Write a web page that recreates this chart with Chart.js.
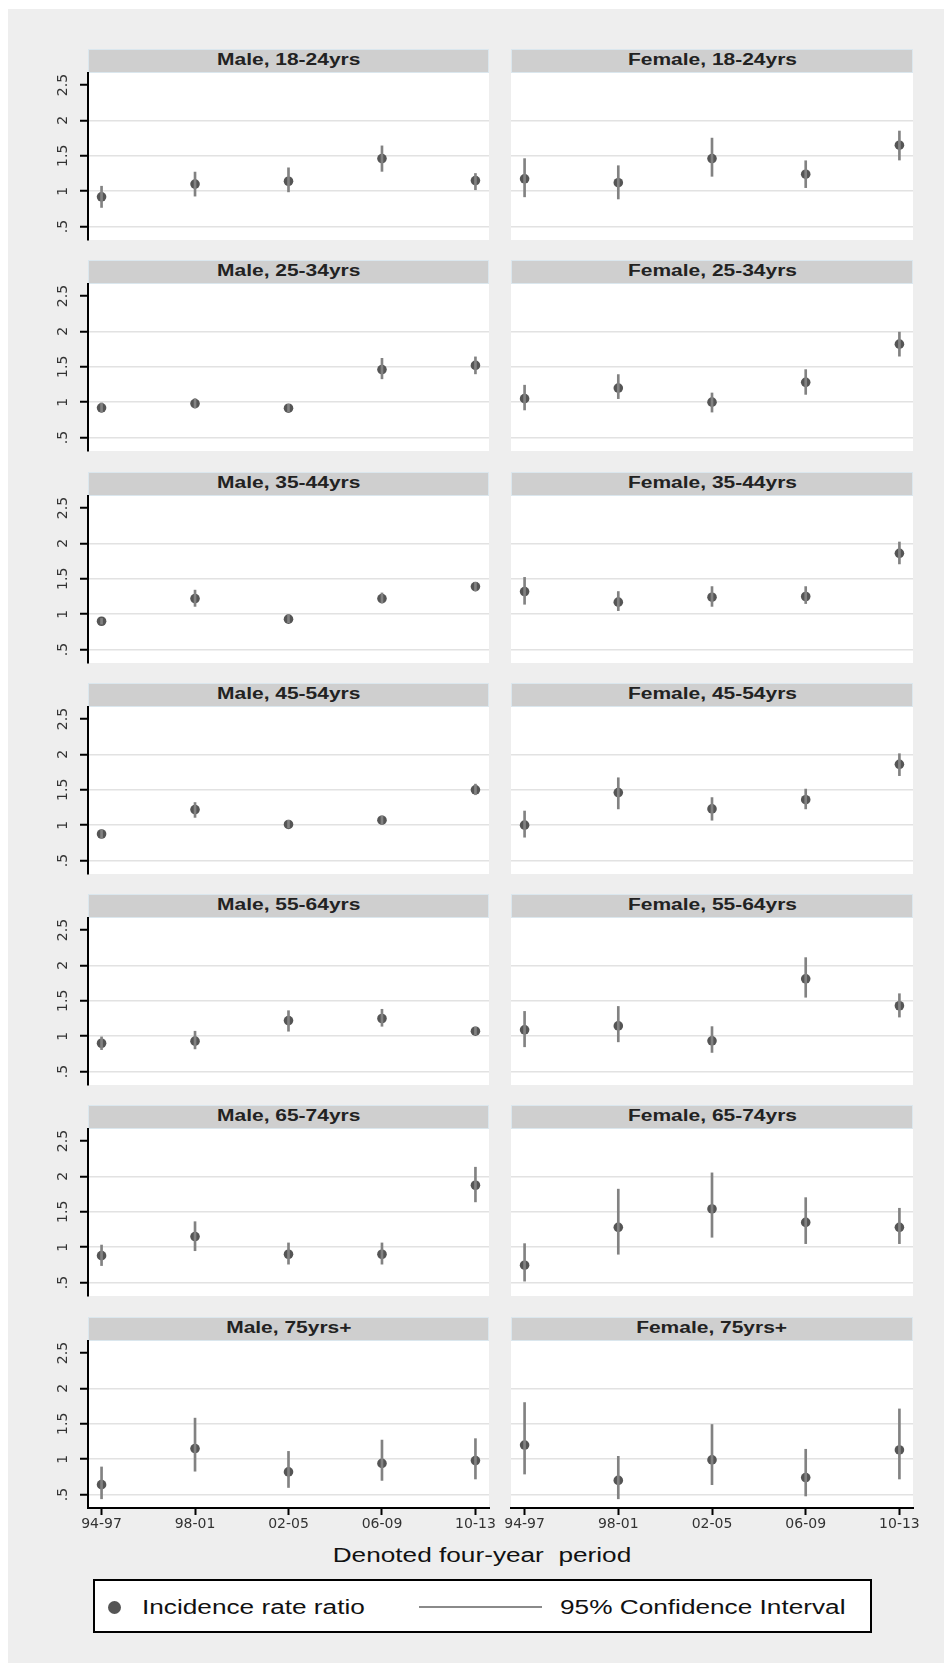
<!DOCTYPE html>
<html lang="en">
<head>
<meta charset="UTF-8" />
<title>Incidence rate ratios by sex and age group</title>
<script src="https://cdn.jsdelivr.net/npm/chart.js"></script>
<style>
  html, body { margin: 0; padding: 0; background: #fff; }
  body {
    position: relative;
    width: 944px;
    height: 1663px;
    overflow: hidden;
    font-family: "Liberation Sans", Arial, sans-serif;
  }
  #frame { position: absolute; left: 8px; top: 9px; right: 0; bottom: 0; background: #eeeeee; }
  .strip {
    position: absolute;
    height: 24px;
    box-sizing: border-box;
    background: #cfcfcf;
    border: 1px solid #dbe7ee;
    text-align: center;
    line-height: 20px;
    font-size: 16px;
    font-weight: bold;
    color: #222;
  }
  .wide { display: inline-block; transform: scaleX(1.31); white-space: pre; }
  canvas { position: absolute; }
  #xtitle {
    position: absolute; left: 182px; top: 1543px; width: 600px;
    text-align: center; font-size: 20px; line-height: 24px; color: #111;
  }
  #legend {
    position: absolute; left: 93px; top: 1579px; width: 779px; height: 54px;
    box-sizing: border-box; border: 2px solid #000; background: #fff;
  }
  #legend .txt {
    position: absolute; top: 14px; font-size: 20px; line-height: 24px; color: #111;
    transform-origin: left center;
  }
  #legend .dot {
    position: absolute; left: 13px; top: 20px; width: 13px; height: 13px;
    border-radius: 50%; background: #555;
  }
  #legend .line {
    position: absolute; left: 324px; top: 25px; width: 123px; height: 2px; background: #8a8a8a;
  }
</style>
</head>
<body>
<div id="frame"></div>
<div id="xtitle"><span class="wide">Denoted four-year  period</span></div>
<div id="legend">
  <div class="dot"></div>
  <span class="txt wide" style="left:47px">Incidence rate ratio</span>
  <div class="line"></div>
  <span class="txt wide" style="left:465px">95% Confidence Interval</span>
</div>

<script>
  // periods on the x axis and facet rows
  const periods = ["94-97", "98-01", "02-05", "06-09", "10-13"];
  const ageGroups = ["18-24yrs", "25-34yrs", "35-44yrs", "45-54yrs", "55-64yrs", "65-74yrs", "75yrs+"];
  const sexes = ["Male", "Female"];
  const yTicks = [0.5, 1, 1.5, 2, 2.5];
  const yTickLabels = [".5", "1", "1.5", "2", "2.5"];

  // incidence rate ratios, one row per age group
  const maleIRR = [
    [0.92, 1.10, 1.14, 1.46, 1.15],
    [0.92, 0.98, 0.915, 1.46, 1.52],
    [0.90, 1.22, 0.93, 1.22, 1.39],
    [0.875, 1.22, 1.01, 1.07, 1.50],
    [0.90, 0.93, 1.22, 1.25, 1.07],
    [0.88, 1.15, 0.90, 0.90, 1.875],
    [0.64, 1.15, 0.82, 0.94, 0.98],
  ];
  const maleLow = [
    [0.77, 0.93, 0.99, 1.28, 1.02],
    [0.86, 0.92, 0.86, 1.33, 1.40],
    [0.86, 1.11, 0.88, 1.16, 1.33],
    [0.82, 1.11, 0.96, 1.01, 1.43],
    [0.81, 0.82, 1.07, 1.14, 1.02],
    [0.74, 0.95, 0.76, 0.76, 1.64],
    [0.44, 0.83, 0.60, 0.70, 0.72],
  ];
  const maleHigh = [
    [1.07, 1.27, 1.33, 1.64, 1.25],
    [0.99, 1.05, 0.97, 1.62, 1.64],
    [0.94, 1.34, 0.99, 1.30, 1.45],
    [0.93, 1.32, 1.07, 1.13, 1.58],
    [0.99, 1.07, 1.36, 1.38, 1.13],
    [1.03, 1.36, 1.06, 1.06, 2.13],
    [0.89, 1.58, 1.11, 1.27, 1.29],
  ];
  const femaleIRR = [
    [1.175, 1.12, 1.46, 1.24, 1.65],
    [1.05, 1.20, 1.00, 1.28, 1.82],
    [1.32, 1.17, 1.24, 1.25, 1.86],
    [1.00, 1.46, 1.23, 1.36, 1.86],
    [1.09, 1.145, 0.935, 1.81, 1.43],
    [0.745, 1.28, 1.54, 1.35, 1.28],
    [1.20, 0.70, 0.99, 0.74, 1.13],
  ];
  const femaleLow = [
    [0.92, 0.89, 1.21, 1.05, 1.44],
    [0.89, 1.05, 0.86, 1.11, 1.65],
    [1.14, 1.05, 1.11, 1.15, 1.71],
    [0.83, 1.23, 1.07, 1.23, 1.70],
    [0.85, 0.92, 0.77, 1.55, 1.27],
    [0.52, 0.90, 1.14, 1.05, 1.05],
    [0.79, 0.44, 0.64, 0.48, 0.72],
  ];
  const femaleHigh = [
    [1.46, 1.36, 1.75, 1.43, 1.85],
    [1.24, 1.39, 1.13, 1.46, 1.99],
    [1.52, 1.32, 1.39, 1.39, 2.02],
    [1.20, 1.67, 1.39, 1.51, 2.01],
    [1.35, 1.42, 1.135, 2.11, 1.60],
    [1.05, 1.82, 2.05, 1.70, 1.55],
    [1.80, 1.04, 1.49, 1.14, 1.71],
  ];

  // white plot region
  const plotBg = {
    id: "plotBg",
    beforeDraw(chart) {
      const { ctx, chartArea: a } = chart;
      ctx.save();
      ctx.fillStyle = "#fff";
      ctx.fillRect(a.left, a.top, a.right - a.left, a.bottom - a.top);
      ctx.restore();
    },
  };

  const tickFont = { family: "'DejaVu Sans', sans-serif", size: 14 };

  function addPanel(sexIdx, row, irr, lo, hi) {
    const isLeft = sexIdx === 0;
    const isLast = row === ageGroups.length - 1;
    const plotLeft = isLeft ? 88 : 511;
    const plotRight = isLeft ? 489 : 913;
    const stripTop = Math.round(49 + row * 211.25);
    const plotTop = stripTop + 24;

    const strip = document.createElement("div");
    strip.className = "strip";
    strip.style.left = plotLeft + "px";
    strip.style.top = stripTop + "px";
    strip.style.width = plotRight - plotLeft + "px";
    strip.innerHTML = '<span class="wide">' + sexes[sexIdx] + ", " + ageGroups[row] + "</span>";
    document.body.appendChild(strip);

    const padL = isLeft ? 0 : 20;
    const axisW = isLeft ? 68 : 0;
    const xAxisH = isLast ? 32 : 0;
    const padB = isLast ? 4 : 20;
    const cLeft = plotLeft - axisW - padL;
    const canvas = document.createElement("canvas");
    canvas.width = plotRight + 20 - cLeft;
    canvas.height = 20 + 167 + xAxisH + padB;
    canvas.style.left = cLeft + "px";
    canvas.style.top = plotTop - 20 + "px";
    document.body.appendChild(canvas);

    new Chart(canvas, {
      type: "scatter",
      data: {
        datasets: [
          {
            type: "bar",
            label: "95% Confidence Interval",
            data: periods.map((p, i) => ({ x: i, y: [lo[i], hi[i]] })),
            backgroundColor: "#828282",
            borderWidth: 0,
            barThickness: 2,
            order: 0,
          },
          {
            type: "scatter",
            label: "Incidence rate ratio",
            data: periods.map((p, i) => ({ x: i, y: irr[i] })),
            pointRadius: 4.8,
            pointBackgroundColor: "#555",
            pointBorderWidth: 0,
            order: 1,
          },
        ],
      },
      options: {
        responsive: false,
        animation: false,
        layout: { padding: { left: padL, right: 20, top: 20, bottom: padB } },
        plugins: { legend: { display: false }, tooltip: { enabled: false } },
        scales: {
          x: {
            type: "linear",
            min: -0.145,
            max: 4.145,
            offset: false,
            display: isLast,
            afterBuildTicks: (s) => { s.ticks = periods.map((p, i) => ({ value: i })); },
            afterFit: (s) => { s.height = xAxisH; },
            border: { display: true, color: "#000", width: 2 },
            grid: {
              offset: false,
              drawOnChartArea: false,
              drawTicks: true,
              tickLength: 7,
              tickColor: "#000",
              tickWidth: 2,
            },
            ticks: {
              callback: (v) => periods[v],
              autoSkip: false,
              minRotation: 0,
              maxRotation: 0,
              padding: 1,
              font: tickFont,
              color: "#333",
            },
          },
          y: {
            type: "linear",
            min: 0.31,
            max: 2.67,
            afterBuildTicks: (s) => { s.ticks = yTicks.map((v) => ({ value: v })); },
            afterFit: (s) => { s.width = axisW; },
            border: { display: isLeft, color: "#000", width: 2 },
            grid: {
              color: (c) => (c.tick && c.tick.value < 2.4 ? "#e2e2e2" : "rgba(0,0,0,0)"),
              lineWidth: 1.5,
              drawTicks: isLeft,
              tickLength: 8,
              tickColor: "#000",
              tickWidth: 2,
            },
            ticks: {
              display: isLeft,
              callback: (v) => yTickLabels[yTicks.indexOf(v)],
              minRotation: 90,
              maxRotation: 90,
              crossAlign: "center",
              padding: 6,
              font: tickFont,
              color: "#333",
            },
          },
        },
      },
      plugins: [plotBg],
    });
  }

  ageGroups.forEach((g, r) => {
    addPanel(0, r, maleIRR[r], maleLow[r], maleHigh[r]);
    addPanel(1, r, femaleIRR[r], femaleLow[r], femaleHigh[r]);
  });
</script>
</body>
</html>
